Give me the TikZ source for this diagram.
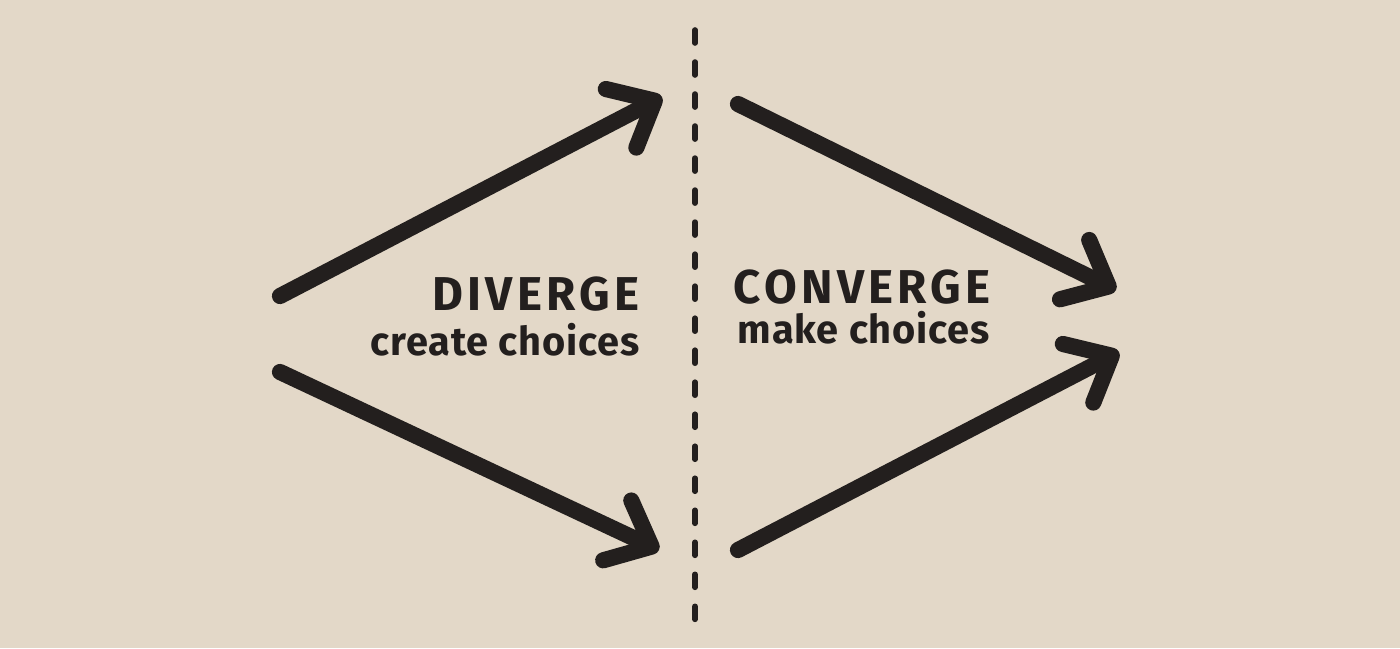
\documentclass[tikz,border=0pt]{standalone}
\usepackage{fontspec}
\setmainfont{Fira Sans}
\usetikzlibrary{arrows.meta}
\definecolor{paper}{HTML}{E3D8C8}
\definecolor{ink}{HTML}{231F1E}
\begin{document}
\begin{tikzpicture}[x=0.01cm,y=-0.01cm]
\tikzset{
	stroke/.style={draw=ink,line width=4.6pt,line cap=round,
		-{Straight Barb[length=3.8mm,width=6.6mm,round]}},
	divide/.style={draw=ink,line width=1.6pt,line cap=round,
		dash pattern=on 1.3mm off 1.9mm},
	title/.style={inner sep=0pt,text=ink,font=\fontsize{13.5}{14}\selectfont\bfseries\addfontfeatures{LetterSpace=9}},
	subtitle/.style={inner sep=0pt,text=ink,font=\fontsize{11.3}{12}\selectfont\bfseries\addfontfeatures{LetterSpace=2}}
}
\useasboundingbox[fill=paper] (0,0) rectangle (1400,648);

% divider
\coordinate (top) at (695,30);
\coordinate (bottom) at (695,628);
\draw[divide] (top) -- (bottom);

% diverge
\coordinate (dstart1) at (280,296);
\coordinate (dtip1) at (662,97);
\coordinate (dstart2) at (280,372);
\coordinate (dtip2) at (659,550);
\draw[stroke] (dstart1) -- (dtip1);
\draw[stroke] (dstart2) -- (dtip2);

% converge
\coordinate (cstart1) at (738,104);
\coordinate (ctip1) at (1116,290);
\coordinate (cstart2) at (738,550);
\coordinate (ctip2) at (1119,352);
\draw[stroke] (cstart1) -- (ctip1);
\draw[stroke] (cstart2) -- (ctip2);

% labels
\node[title,anchor=base east] (div) at (640,310) {DIVERGE};
\node[subtitle,anchor=base east] (divsub) at (640,355) {create choices};
\node[title,anchor=base west] (con) at (733,303) {CONVERGE};
\node[subtitle,anchor=base west] (consub) at (737,343) {make choices};
\end{tikzpicture}
\end{document}
